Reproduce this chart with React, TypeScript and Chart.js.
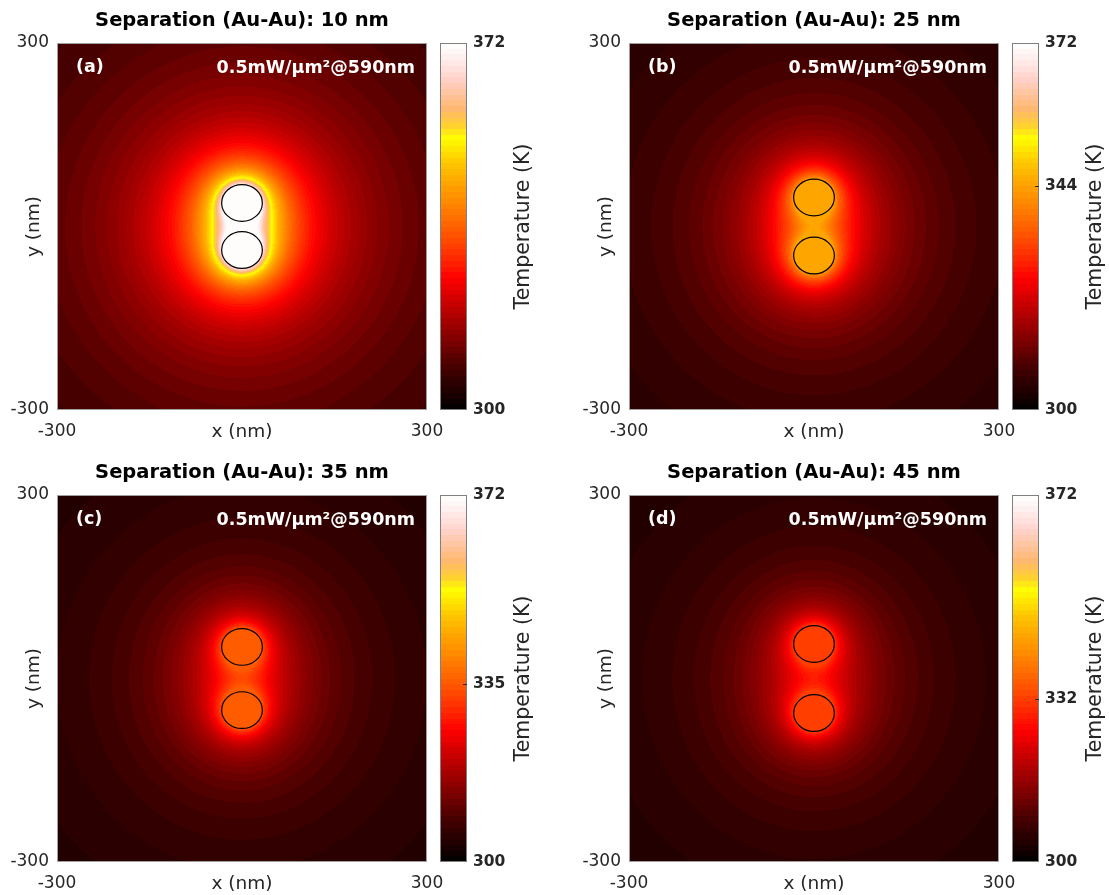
import React, { useEffect, useRef } from 'react';
import { Chart, registerables } from 'chart.js';

Chart.register(...registerables);

// ---------------- data ----------------
const panelLetters = ['(a)', '(b)', '(c)', '(d)'];
const separationsNm = [10, 25, 35, 45];
const particleTempsK = [372, 344, 335, 332];
const colorbarTicksK = [
  [300, 372],
  [300, 344, 372],
  [300, 335, 372],
  [300, 332, 372],
];
const halfCenterDistNm = [38.5, 47.5, 51.7, 56.5];
const particleRadiusXNm = 33;
const particleRadiusYNm = 30;
const fieldRadiusNm = 32;
const ambientK = 300;
const colorMinK = 300;
const colorMaxK = 372;
const axisMinNm = -300;
const axisMaxNm = 300;
const axisTicksNm = [-300, 300];
const powerLabel = '0.5mW/\u03BCm\u00B2@590nm';

// colormap stops (fraction of colorbar -> colour)
const cmapPos = [0, 0.05, 0.11, 0.17, 0.235, 0.3, 0.36, 0.4, 0.48, 0.55, 0.61, 0.68, 0.74, 0.775, 0.82, 0.9, 0.96, 1];
const cmapHex = ['#000000', '#200000', '#400000', '#700000', '#a00000', '#d00000', '#ff0000', '#ff2000', '#ff5500', '#ff8000', '#ffa000', '#ffcc00', '#ffff00', '#ffd030', '#ffb870', '#ffd0c8', '#fff0f0', '#ffffff'];
const LEVELS = 64;

const FONT = '"DejaVu Sans", sans-serif';
const TICK_COLOR = '#262626';

// ---------------- helpers ----------------
function hexToRgb(h: string): number[] {
  const n = parseInt(h.slice(1), 16);
  return [(n >> 16) & 255, (n >> 8) & 255, n & 255];
}
const stopRgb = cmapHex.map(hexToRgb);
function interpColor(f: number): number[] {
  for (let k = 1; k < cmapPos.length; k++) {
    if (f <= cmapPos[k]) {
      const t = (f - cmapPos[k - 1]) / (cmapPos[k] - cmapPos[k - 1]);
      const a = stopRgb[k - 1], b = stopRgb[k];
      return [0, 1, 2].map((c) => Math.round(a[c] + (b[c] - a[c]) * t));
    }
  }
  return stopRgb[stopRgb.length - 1];
}
const lut = Array.from({ length: LEVELS }, (_, i) => interpColor((i + 0.5) / LEVELS));
function colorFor(T: number): number[] {
  const f = (T - colorMinK) / (colorMaxK - colorMinK);
  let i = Math.floor(f * LEVELS);
  if (i < 0) i = 0;
  if (i > LEVELS - 1) i = LEVELS - 1;
  return lut[i];
}

// steady-state heat field of two heated spheres (superposed R/r decay)
function temperatureAt(p: number, x: number, y: number): number {
  const off = halfCenterDistNm[p];
  const Tp = particleTempsK[p];
  const centers = [off, -off];
  for (const c of centers) {
    const u = x / particleRadiusXNm, v = (y - c) / particleRadiusYNm;
    if (u * u + v * v <= 1) return Tp;
  }
  const A = (Tp - ambientK) / (1 + fieldRadiusNm / (2 * off));
  let s = 0;
  for (const c of centers) {
    const r = Math.hypot(x, y - c);
    s += (A * fieldRadiusNm) / Math.max(r, fieldRadiusNm);
  }
  return Math.min(ambientK + s, Tp);
}

function makeHeatmapPlugin(p: number) {
  return {
    id: 'heatmap' + p,
    beforeDatasetsDraw(chart: any) {
      const { ctx, chartArea: a, scales } = chart;
      const xs = scales.x, ys = scales.y;
      const L = Math.round(a.left), T = Math.round(a.top);
      const W = Math.round(a.right) - L, H = Math.round(a.bottom) - T;
      const img = ctx.createImageData(W, H);
      const xv = new Float64Array(W);
      for (let i = 0; i < W; i++) xv[i] = xs.getValueForPixel(L + i + 0.5);
      for (let j = 0; j < H; j++) {
        const yv = ys.getValueForPixel(T + j + 0.5);
        for (let i = 0; i < W; i++) {
          const c = colorFor(temperatureAt(p, xv[i], yv));
          const k = (j * W + i) * 4;
          img.data[k] = c[0];
          img.data[k + 1] = c[1];
          img.data[k + 2] = c[2];
          img.data[k + 3] = 255;
        }
      }
      ctx.putImageData(img, L, T);

      ctx.save();
      // particle outlines
      const cx = xs.getPixelForValue(0);
      const rxPx = Math.abs(xs.getPixelForValue(particleRadiusXNm) - cx);
      const ryPx = Math.abs(ys.getPixelForValue(particleRadiusYNm) - ys.getPixelForValue(0));
      ctx.strokeStyle = '#000';
      ctx.lineWidth = 1.2;
      for (const c of [halfCenterDistNm[p], -halfCenterDistNm[p]]) {
        ctx.beginPath();
        ctx.ellipse(cx, ys.getPixelForValue(c), rxPx, ryPx, 0, 0, Math.PI * 2);
        ctx.stroke();
      }
      // frame
      ctx.strokeStyle = 'rgb(160,160,160)';
      ctx.lineWidth = 1;
      ctx.strokeRect(L + 0.5, T + 0.5, W - 1, H - 1);
      // annotations
      ctx.fillStyle = '#ffffff';
      ctx.font = 'bold 17.5px ' + FONT;
      ctx.textBaseline = 'alphabetic';
      ctx.textAlign = 'left';
      ctx.fillText(panelLetters[p], L + 19, T + 29);
      ctx.textAlign = 'right';
      ctx.fillText(powerLabel, L + W - 12, T + 30);
      ctx.restore();
    },
  };
}

function makeColorbarPlugin(p: number) {
  return {
    id: 'colorbar' + p,
    beforeDatasetsDraw(chart: any) {
      const { ctx, chartArea: a, scales } = chart;
      const ys = scales.y;
      const L = Math.round(a.left), T = Math.round(a.top);
      const W = Math.round(a.right) - L, H = Math.round(a.bottom) - T;
      for (let j = 0; j < H; j++) {
        const c = colorFor(ys.getValueForPixel(T + j + 0.5));
        ctx.fillStyle = `rgb(${c[0]},${c[1]},${c[2]})`;
        ctx.fillRect(L, T + j, W, 1);
      }
      ctx.save();
      ctx.strokeStyle = 'rgb(128,128,128)';
      ctx.lineWidth = 1;
      ctx.strokeRect(L + 0.5, T + 0.5, W - 1, H - 1);
      // inner tick marks for intermediate ticks
      ctx.strokeStyle = TICK_COLOR;
      for (const v of colorbarTicksK[p]) {
        if (v === colorMinK || v === colorMaxK) continue;
        const py = Math.round(ys.getPixelForValue(v)) + 0.5;
        ctx.beginPath();
        ctx.moveTo(L + W - 4, py);
        ctx.lineTo(L + W, py);
        ctx.stroke();
      }
      // colorbar label
      ctx.fillStyle = TICK_COLOR;
      ctx.font = '20.5px ' + FONT;
      ctx.textAlign = 'center';
      ctx.textBaseline = 'middle';
      ctx.translate(L + 84, (a.top + a.bottom) / 2);
      ctx.rotate(-Math.PI / 2);
      ctx.fillText('Temperature (K)', 0, 0);
      ctx.restore();
    },
  };
}

const HEAT_W = 447;
const CANVAS_H = 443;
const BAR_W = 120;

function Panel({ index, left, top }: { index: number; left: number; top: number }) {
  const heatRef = useRef<HTMLCanvasElement>(null);
  const barRef = useRef<HTMLCanvasElement>(null);

  useEffect(() => {
    const heat = new Chart(heatRef.current as HTMLCanvasElement, {
      type: 'scatter',
      data: { datasets: [] },
      plugins: [makeHeatmapPlugin(index)],
      options: {
        responsive: false,
        animation: false,
        devicePixelRatio: 1,
        layout: { padding: { left: 0, right: 20, top: 0, bottom: 0 } },
        plugins: {
          legend: { display: false },
          tooltip: { enabled: false },
          title: {
            display: true,
            text: `Separation (Au-Au): ${separationsNm[index]} nm`,
            color: '#000000',
            font: { family: FONT, size: 19.5, weight: 'bold' },
            padding: { top: 9.5, bottom: 10.1 },
            fullSize: false,
          },
        },
        scales: {
          x: {
            type: 'linear',
            position: 'bottom',
            min: axisMinNm,
            max: axisMaxNm,
            grid: { display: false, drawTicks: false },
            border: { display: false },
            ticks: { color: TICK_COLOR, font: { family: FONT, size: 17 }, padding: 11, autoSkip: false, maxRotation: 0 },
            afterBuildTicks: (s: any) => {
              s.ticks = axisTicksNm.map((v) => ({ value: v }));
            },
            afterFit: (s: any) => {
              s.height = 33;
              s.paddingLeft = 0;
              s.paddingRight = 0;
            },
            title: { display: true, text: 'x (nm)', color: TICK_COLOR, font: { family: FONT, size: 18.5 }, padding: { top: 0, bottom: 0 } },
          },
          y: {
            type: 'linear',
            position: 'left',
            min: axisMinNm,
            max: axisMaxNm,
            grid: { display: false, drawTicks: false },
            border: { display: false },
            ticks: { color: TICK_COLOR, font: { family: FONT, size: 17 }, padding: 8, autoSkip: false },
            afterBuildTicks: (s: any) => {
              s.ticks = axisTicksNm.map((v) => ({ value: v }));
            },
            afterFit: (s: any) => {
              s.width = 57;
              s.paddingTop = 0;
              s.paddingBottom = 0;
            },
            title: { display: true, text: 'y (nm)', color: TICK_COLOR, font: { family: FONT, size: 18.5 }, padding: { top: 23.4, bottom: 0 } },
          },
        },
      },
    } as any);

    const bar = new Chart(barRef.current as HTMLCanvasElement, {
      type: 'scatter',
      data: { datasets: [] },
      plugins: [makeColorbarPlugin(index)],
      options: {
        responsive: false,
        animation: false,
        devicePixelRatio: 1,
        layout: { padding: { left: 10, right: 0, top: 43, bottom: 33 } },
        plugins: { legend: { display: false }, tooltip: { enabled: false }, title: { display: false } },
        scales: {
          x: { type: 'linear', display: false, min: 0, max: 1 },
          y: {
            type: 'linear',
            position: 'right',
            min: colorMinK,
            max: colorMaxK,
            grid: { display: false, drawTicks: false },
            border: { display: false },
            ticks: { color: TICK_COLOR, font: { family: FONT, size: 15.5, weight: 'bold' }, padding: 6, autoSkip: false },
            afterBuildTicks: (s: any) => {
              s.ticks = colorbarTicksK[index].map((v) => ({ value: v }));
            },
            afterFit: (s: any) => {
              s.width = 83;
            },
          },
        },
      },
    } as any);

    return () => {
      heat.destroy();
      bar.destroy();
    };
  }, [index]);

  return (
    <>
      <canvas ref={heatRef} width={HEAT_W} height={CANVAS_H} style={{ position: 'absolute', left, top, width: HEAT_W, height: CANVAS_H }} />
      <canvas ref={barRef} width={BAR_W} height={CANVAS_H} style={{ position: 'absolute', left: left + 430, top, width: BAR_W, height: CANVAS_H }} />
    </>
  );
}

const panelPositions = [
  { left: 0, top: 0 },
  { left: 572, top: 0 },
  { left: 0, top: 452 },
  { left: 572, top: 452 },
];

export default function App() {
  return (
    <div style={{ position: 'absolute', left: 0, top: 0, width: 1109, height: 895, overflow: 'hidden', background: '#ffffff' }}>
      {panelPositions.map((pos, i) => (
        <Panel key={i} index={i} left={pos.left} top={pos.top} />
      ))}
    </div>
  );
}
